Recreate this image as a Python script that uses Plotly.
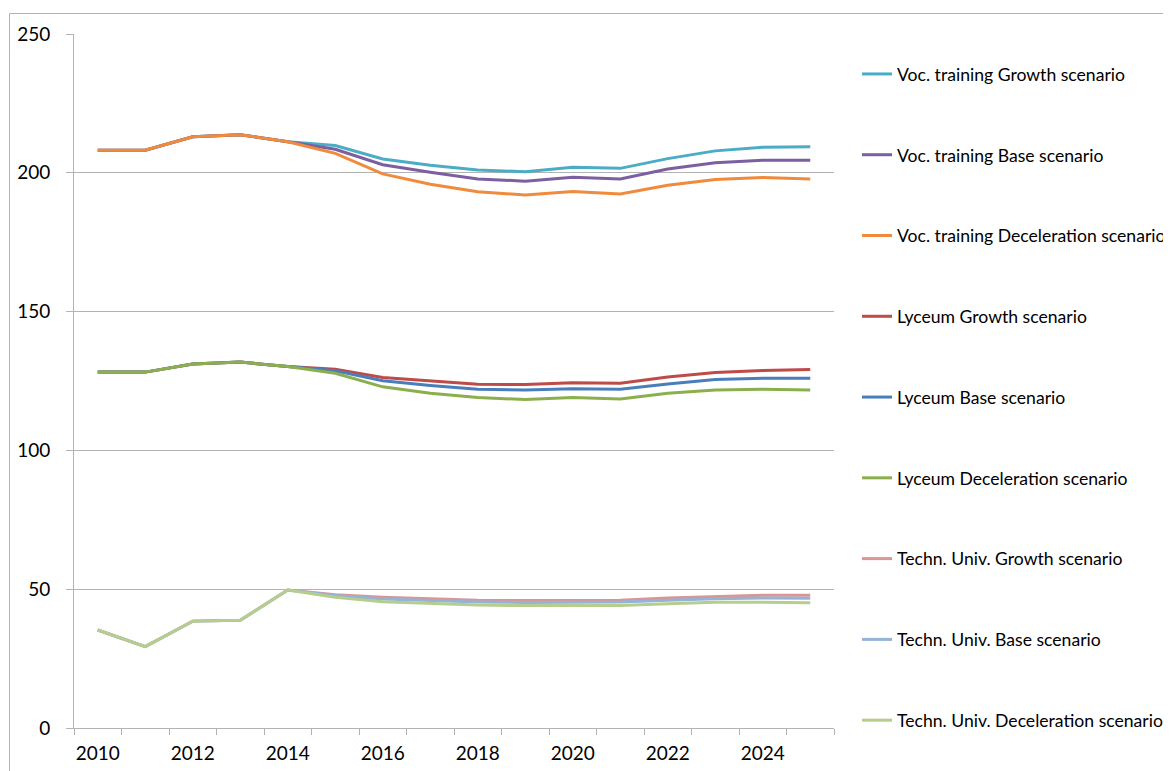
import plotly.graph_objects as go

years = list(range(2010, 2026))

voc_growth = [208.1, 208.1, 213.0, 213.7, 211.2, 209.8, 205.0, 202.7, 201.0, 200.4, 202.0, 201.6, 205.1, 207.9, 209.2, 209.4]
voc_base = [208.1, 208.1, 213.0, 213.7, 211.2, 208.5, 202.9, 200.2, 197.8, 197.0, 198.4, 197.8, 201.4, 203.6, 204.5, 204.5]
voc_decel = [208.1, 208.1, 213.0, 213.7, 211.2, 207.0, 199.6, 195.9, 193.2, 192.0, 193.3, 192.4, 195.5, 197.6, 198.3, 197.8]

lyc_growth = [128.2, 128.2, 131.1, 131.8, 130.2, 129.2, 126.3, 125.0, 123.8, 123.7, 124.4, 124.2, 126.4, 128.1, 128.8, 129.1]
lyc_base = [128.2, 128.2, 131.1, 131.8, 130.2, 128.7, 125.1, 123.4, 122.0, 121.8, 122.2, 122.0, 123.9, 125.5, 126.0, 126.0]
lyc_decel = [128.2, 128.2, 131.1, 131.8, 130.2, 127.8, 122.9, 120.6, 119.1, 118.3, 119.1, 118.5, 120.6, 121.8, 122.0, 121.8]

tu_growth = [35.3, 29.3, 38.5, 38.8, 49.7, 48.0, 47.1, 46.5, 46.0, 45.9, 46.0, 46.0, 46.8, 47.4, 47.8, 47.8]
tu_base = [35.3, 29.3, 38.5, 38.8, 49.7, 47.7, 46.5, 45.9, 45.4, 45.2, 45.3, 45.4, 46.0, 46.6, 46.8, 46.7]
tu_decel = [35.3, 29.3, 38.5, 38.8, 49.7, 47.1, 45.5, 44.8, 44.3, 44.1, 44.2, 44.1, 44.8, 45.3, 45.3, 45.1]

series = [
    ("Voc. training Growth scenario", voc_growth, "#4BACC6"),
    ("Voc. training Base scenario", voc_base, "#7B5FA0"),
    ("Voc. training Deceleration scenario", voc_decel, "#F08A3C"),
    ("Lyceum Growth scenario", lyc_growth, "#BE4B48"),
    ("Lyceum Base scenario", lyc_base, "#4A7EBB"),
    ("Lyceum Deceleration scenario", lyc_decel, "#8BAF4C"),
    ("Techn. Univ. Growth scenario", tu_growth, "#D99694"),
    ("Techn. Univ. Base scenario", tu_base, "#95B3D7"),
    ("Techn. Univ. Deceleration scenario", tu_decel, "#B5CE8E"),
]

fig = go.Figure()
for i, (name, vals, col) in enumerate(series):
    fig.add_trace(go.Scatter(x=years, y=vals, name=name, mode="lines",
                             line=dict(color=col, width=3),
                             legendgroup=f"g{i}"))

# page body has an 8px margin; the figure is shrunk and offset to compensate
OFF = 8
W, H = 1171 - OFF, 771 - OFF
L, T = 74 - OFF, 34 - OFF
pw, ph = 760, 694
R, B = W - L - pw, H - T - ph

def px_to_paper_x(px):
    return (px - OFF - L) / pw

def px_to_paper_y(py):
    return (T + ph - (py - OFF)) / ph

fig.update_layout(
    width=W, height=H,
    margin=dict(l=L, r=R, t=T, b=B, autoexpand=False),
    paper_bgcolor="white", plot_bgcolor="white",
    font=dict(family="Lato", color="#000000", size=19),
    showlegend=True,
    legend=dict(
        x=px_to_paper_x(857), y=px_to_paper_y(56), xanchor="left", yanchor="top",
        font=dict(family="Lato", size=17.6, color="#000000"),
        tracegroupgap=54.9, bgcolor="rgba(0,0,0,0)",
        itemwidth=30,
    ),
    xaxis=dict(
        range=[2009.5, 2025.5], tickmode="linear", tick0=2010, dtick=2,
        ticks="", showgrid=False, showline=True, linecolor="#B3B3B3", linewidth=1,
        zeroline=False, automargin=False,
        minor=dict(tick0=2009.5, dtick=1, ticks="outside", ticklen=6,
                   tickcolor="#B3B3B3", showgrid=False),
        tickfont=dict(family="Lato", size=19, color="#000000"),
        ticklabelstandoff=8,
    ),
    yaxis=dict(
        range=[0, 250], tickmode="linear", tick0=0, dtick=50,
        ticks="outside", ticklen=7, tickcolor="#B3B3B3",
        showgrid=True, gridcolor="#B3B3B3", gridwidth=1,
        showline=True, linecolor="#B3B3B3", linewidth=1, zeroline=False,
        automargin=False,
        tickfont=dict(family="Lato", size=19, color="#000000"),
        ticklabelstandoff=12,
    ),
    shapes=[dict(type="rect", xref="paper", yref="paper",
                 x0=px_to_paper_x(9.5), x1=px_to_paper_x(1200),
                 y0=px_to_paper_y(13.5), y1=px_to_paper_y(800),
                 line=dict(color="#B3B3B3", width=1), fillcolor="rgba(0,0,0,0)",
                 layer="below")],
)

fig.write_html("out.html")
